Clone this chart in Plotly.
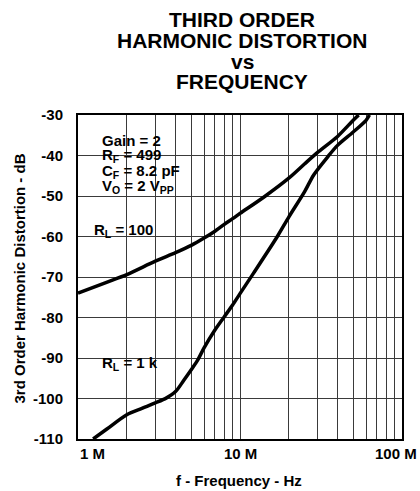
import numpy as np
import plotly.graph_objects as go

# ---- data (frequency in MHz, distortion in dB) ----
freq_rl100 = [1, 1.5, 2, 3, 4, 5, 6, 7, 8, 9, 10, 14, 20, 25, 30, 40, 50, 54]
thd_rl100 = [-74, -71.3, -69.4, -66.1, -64.0, -62.2, -60.4, -58.7, -57.0, -55.6, -54.3,
             -50.3, -45.6, -42.1, -39.3, -35.3, -31.3, -30]

freq_rl1k = [1.24, 1.5, 2, 2.5, 3, 3.5, 4, 4.5, 5, 5.5, 6, 7, 8, 9, 10, 12.1, 17, 20,
             25, 28.5, 35, 40, 50, 60, 63]
thd_rl1k = [-110, -107.6, -104.0, -102.4, -101.1, -99.9, -98.3, -95.5, -92.9, -90.4,
            -87.5, -83.1, -79.8, -76.9, -74.1, -69.1, -60.0, -55.2, -49.0, -44.8,
            -40.2, -37.5, -34.2, -31.3, -30]

x_grid = [m * d for d in (1, 10) for m in range(1, 10)] + [100]
x_tick_vals = [1, 10, 100]
x_tick_text = ["1 M", "10 M", "100 M"]
y_tick_vals = [-110, -100, -90, -80, -70, -60, -50, -40, -30]
y_tick_text = ["-110", "-100", "-90", "-80", "-70", "-60", "-50", "-40", "-30"]

title_lines = ["THIRD ORDER", "HARMONIC DISTORTION", "vs", "FREQUENCY"]
cond_lines = ["Gain = 2", "R<sub>F</sub> = 499", "C<sub>F</sub> = 8.2 pF",
              "V<sub>O</sub> = 2 V<sub>PP</sub>"]

FONT = "Liberation Sans, Arial, sans-serif"
W, H = 420, 491
L, R, T, B = 78, 18, 115, 52
PW, PH = W - L - R, H - T - B


def px(x):
    return (x - L) / PW


def py(y):
    return (T + PH - y) / PH


fig = go.Figure()
for f, d in ((freq_rl100, thd_rl100), (freq_rl1k, thd_rl1k)):
    fig.add_trace(go.Scatter(x=f, y=d, mode="lines",
                             line=dict(color="black", width=3.5, shape="spline", smoothing=0.8),
                             showlegend=False, hoverinfo="skip"))

ann = []
# title
for txt, cy in zip(title_lines, [19.5, 40.5, 61.5, 81.5]):
    ann.append(dict(text=txt, x=px(242), y=py(cy), xref="paper", yref="paper",
                    xanchor="center", yanchor="middle", showarrow=False,
                    font=dict(size=21, family=FONT, color="black", weight="bold")))
# conditions
for txt, cy in zip(cond_lines, [140, 155.5, 171, 186.5]):
    ann.append(dict(text=txt, x=px(100), y=py(cy), xref="paper", yref="paper",
                    xanchor="left", yanchor="middle", showarrow=False,
                    font=dict(size=15, family=FONT, color="black", weight="bold")))
# curve labels
ann.append(dict(text="R<sub>L</sub> = 100", x=px(91.5), y=py(230), xref="paper", yref="paper",
                xanchor="left", yanchor="middle", showarrow=False,
                font=dict(size=15, family=FONT, color="black", weight="bold")))
ann.append(dict(text="R<sub>L</sub> = 1 k", x=px(100), y=py(363), xref="paper", yref="paper",
                xanchor="left", yanchor="middle", showarrow=False,
                font=dict(size=15, family=FONT, color="black", weight="bold")))
# x tick labels
for v, t, anc, sh in zip(x_tick_vals, x_tick_text, ["left", "center", "center"], [0, 0, -6]):
    ann.append(dict(text=t, x=np.log10(v), y=py(453), xref="x", yref="paper",
                    xanchor=anc, yanchor="middle", xshift=sh, showarrow=False,
                    font=dict(size=15, family=FONT, color="black", weight="bold")))
# axis titles
ann.append(dict(text="f - Frequency - Hz", x=px(239), y=py(481), xref="paper", yref="paper",
                xanchor="center", yanchor="middle", showarrow=False,
                font=dict(size=15, family=FONT, color="black", weight="bold")))
ann.append(dict(text="3rd Order Harmonic Distortion - dB", x=px(18.5), y=py(279),
                xref="paper", yref="paper", xanchor="center", yanchor="middle",
                textangle=-90, showarrow=False,
                font=dict(size=15, family=FONT, color="black", weight="bold")))

shapes = []
for (x0, x1, y0, y1) in [(88, 208, 126, 205), (88, 178, 215, 247), (88, 177, 352, 373)]:
    shapes.append(dict(type="rect", xref="paper", yref="paper",
                       x0=px(x0), x1=px(x1), y0=py(y1), y1=py(y0),
                       fillcolor="white", line=dict(width=0), layer="between"))

fig.update_layout(
    width=W, height=H,
    margin=dict(l=L, r=R, t=T, b=B, autoexpand=False),
    paper_bgcolor="white", plot_bgcolor="white",
    annotations=ann, shapes=shapes,
    font=dict(family=FONT, color="black"),
)
fig.update_xaxes(type="log", range=[0, 2], tickvals=x_grid, showticklabels=False,
                 ticks="", showgrid=True, gridcolor="#3a3a3a", gridwidth=1,
                 showline=True, mirror=True, linecolor="black", linewidth=2,
                 zeroline=False, fixedrange=True)
fig.update_yaxes(range=[-110, -30], tickvals=y_tick_vals, ticktext=y_tick_text,
                 ticks="", showgrid=True, gridcolor="#3a3a3a", gridwidth=1,
                 showline=True, mirror=True, linecolor="black", linewidth=2,
                 zeroline=False, ticklabelstandoff=10, fixedrange=True,
                 tickfont=dict(size=15, family=FONT, color="black", weight="bold"))

fig.write_html("out.html", config={"displayModeBar": False},
               post_script="document.body.style.margin='0px';document.body.style.overflow='hidden';")
